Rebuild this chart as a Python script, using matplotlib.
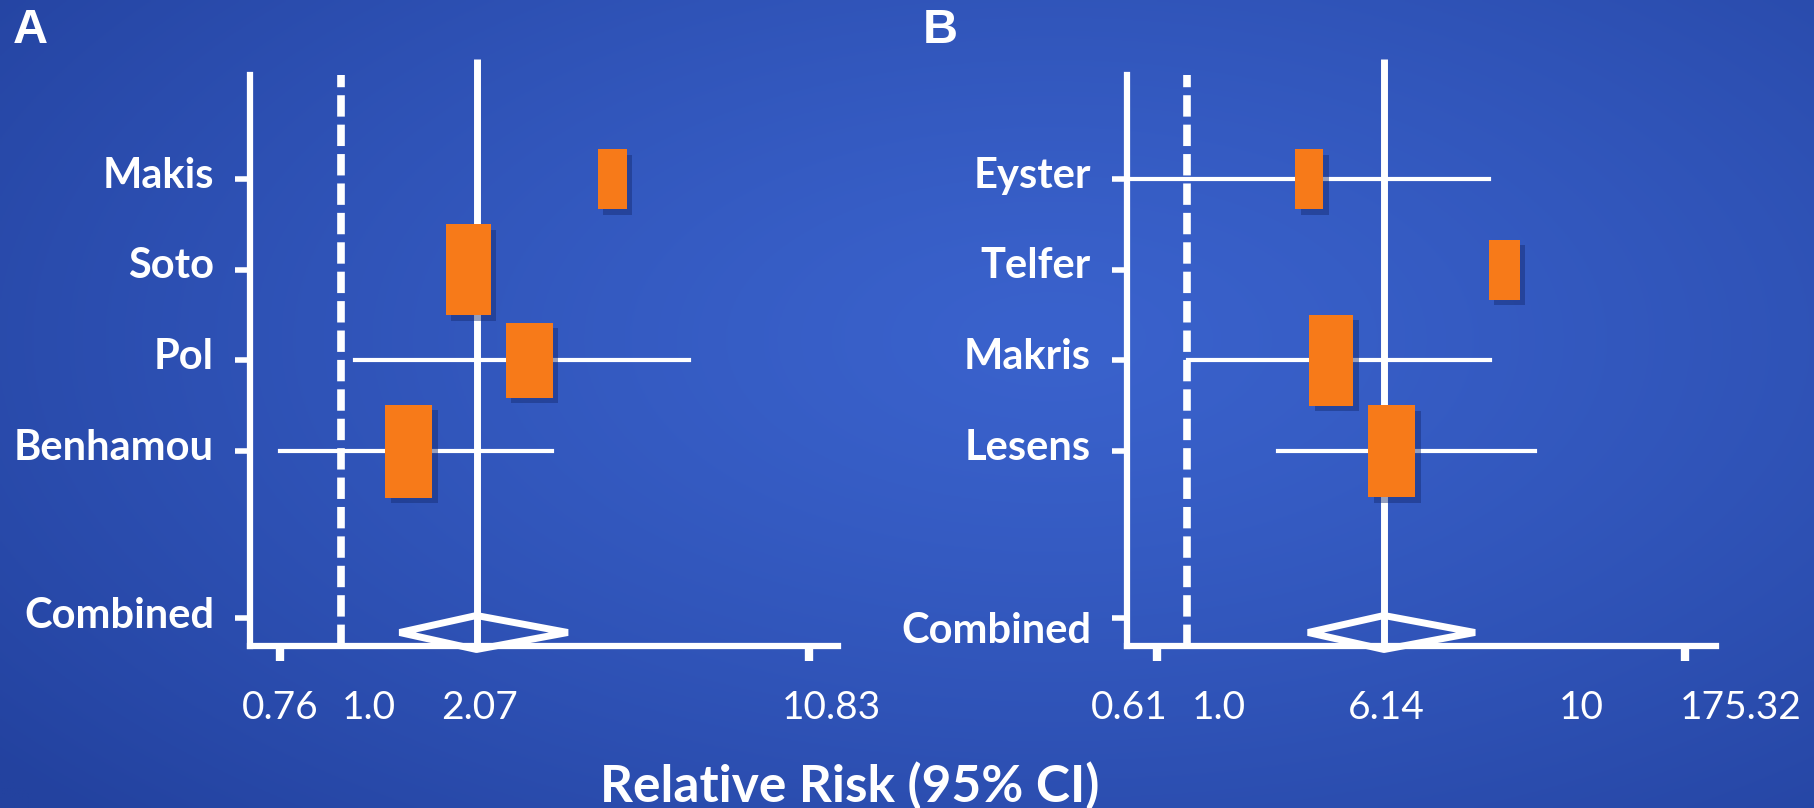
import numpy as np
import matplotlib
matplotlib.use("Agg")
import matplotlib.pyplot as plt
from matplotlib.patches import Rectangle, Polygon
from matplotlib.transforms import ScaledTranslation
import matplotlib.patheffects as pe

plt.rcParams['font.family'] = ['Lato', 'DejaVu Sans']

# ---- data (relative risk, 95% CI) ----
a_names = ['Makis', 'Soto', 'Pol', 'Benhamou']
a_rr = [4.07, 1.98, 2.69, 1.44]
a_lo = [np.nan, np.nan, 1.08, 0.76]
a_hi = [np.nan, np.nan, 5.96, 3.01]
a_pooled = [2.07, 1.37, 3.26]          # estimate, low, high
a_ticks = [0.76, 1.0, 2.07, 10.83]
a_tick_labels = ['0.76', '1.0', '2.07', '10.83']

b_names = ['Eyster', 'Telfer', 'Makris', 'Lesens']
b_rr = [3.08, 8.27, 3.77, 6.26]
b_lo = [0.40, np.nan, 1.01, 2.31]
b_hi = [7.96, np.nan, 7.98, 8.92]
b_pooled = [6.14, 3.05, 7.69]
b_ticks = [0.61, 1.0, 6.14, 10, 175.32]
b_tick_labels = ['0.61', '1.0', '6.14', '10', '175.32']

# ---- layout / style (pixels of the 1814x808 figure) ----
W, H = 1814, 808
ROW0, ROW = 179, 90.7          # pixel y of first study row, row spacing
AX_TOP, AX_BOT = 75, 646
COMBINED_ROW = 4.84
DIAMOND_ROW = 5.0
ORANGE = '#f77a19'

a_tick_px = [280, 341, 476.5, 809]
b_tick_px = [1156.5, 1187, 1384, 1581, 1685]
a_label_dx = [0, 28, 3, 22]
b_label_dx = [-27, 32, 2, 0, 56]
a_ylabel_dy = [7, 7, 7, 7, 5]
b_ylabel_dy = [7, 7, 7, 7, -10]
a_box_w = [29, 45, 47, 47]
a_box_h = [60, 91, 75, 93]
b_box_w = [28, 31, 44, 47]
b_box_h = [60, 60, 91, 92]


def piecewise_scale(vals, pos):
    lv = np.log(np.asarray(vals, float))
    ps = np.asarray(pos, float)

    def fwd(v):
        x = np.log(np.clip(np.asarray(v, float), 1e-6, None))
        y = np.interp(x, lv, ps)
        y = np.where(x < lv[0], ps[0] + (x - lv[0]) * (ps[1] - ps[0]) / (lv[1] - lv[0]), y)
        y = np.where(x > lv[-1], ps[-1] + (x - lv[-1]) * (ps[-1] - ps[-2]) / (lv[-1] - lv[-2]), y)
        return y

    def inv(y):
        y = np.asarray(y, float)
        x = np.interp(y, ps, lv)
        x = np.where(y < ps[0], lv[0] + (y - ps[0]) * (lv[1] - lv[0]) / (ps[1] - ps[0]), x)
        x = np.where(y > ps[-1], lv[-1] + (y - ps[-1]) * (lv[-1] - lv[-2]) / (ps[-1] - ps[-2]), x)
        return np.exp(x)
    return fwd, inv


fig = plt.figure(figsize=(W / 100, H / 100), dpi=100)

# background gradient
bg = fig.add_axes([0, 0, 1, 1], zorder=-10)
yy, xx = np.mgrid[0:1:300j, 0:1:700j]
d = np.clip(np.sqrt(((xx - 0.58) / 0.75) ** 2 + ((yy - 0.42) / 0.85) ** 2), 0, 1) ** 1.3
inner = np.array([0x3a, 0x62, 0xcc]) / 255
outer = np.array([0x23, 0x42, 0x9f]) / 255
bg.imshow(inner + (outer - inner) * d[..., None], extent=[0, 1, 0, 1], aspect='auto')
bg.axis('off')


def draw_panel(x_left, x_right, tick_vals, tick_px, tick_labels, label_dx, mark_vals,
               names, rr, lo, hi, box_w, box_h, pooled, ylabel_dy, letter, letter_x):
    fwd, inv = piecewise_scale(tick_vals, tick_px)
    ax = fig.add_axes([x_left / W, 1 - AX_BOT / H, (x_right - x_left) / W, (AX_BOT - AX_TOP) / H])
    ax.patch.set_visible(False)
    ax.set_xscale('function', functions=(fwd, inv))
    ax.set_xlim(float(inv(x_left)), float(inv(x_right)))
    ax.set_ylim((AX_BOT - ROW0) / ROW, (AX_TOP - ROW0) / ROW)

    for side in ['top', 'right']:
        ax.spines[side].set_visible(False)
    for side in ['left', 'bottom']:
        ax.spines[side].set_color('white')
        ax.spines[side].set_linewidth(4.5)
        ax.spines[side].set_capstyle('projecting')

    rows = list(range(len(names)))
    ax.set_yticks(rows + [COMBINED_ROW], names + ['Combined'])
    ax.tick_params(axis='y', colors='white', length=11, width=4, pad=15,
                   labelsize=30)
    for t, dy in zip(ax.get_yticklabels(), ylabel_dy):
        t.set_fontweight('bold')
        t.set_transform(t.get_transform() + ScaledTranslation(0, dy / 100, fig.dpi_scale_trans))

    ax.set_xticks(mark_vals, [''] * len(mark_vals))
    ax.xaxis.set_minor_locator(plt.NullLocator())
    ax.tick_params(axis='x', colors='white', length=11, width=6)

    for v, lab, dx in zip(tick_vals, tick_labels, label_dx):
        off = ScaledTranslation(dx / 100, -62 / 100, fig.dpi_scale_trans)
        ax.text(v, 0, lab, transform=ax.get_xaxis_transform() + off,
                ha='center', va='center', color='white', fontsize=28)

    # reference lines: null (dashed) and pooled estimate (solid)
    ax.axvline(1.0, color='white', lw=5.5, ls=(0, (2.8, 1.05)), zorder=2)
    ax.plot([pooled[0], pooled[0]], [(59 - ROW0) / ROW, (AX_BOT - ROW0) / ROW],
            color='white', lw=5, clip_on=False, zorder=2, solid_capstyle='butt')

    # confidence intervals
    for r, l, h in zip(rows, lo, hi):
        if not np.isnan(l):
            ax.plot([l, h], [r, r], color='white', lw=3, zorder=3)

    # study boxes
    shadow = [pe.SimplePatchShadow(offset=(4, -4), shadow_rgbFace='#142a70', alpha=0.45), pe.Normal()]
    for r, est, bw, bh in zip(rows, rr, box_w, box_h):
        cx = fwd(est)
        x0, x1 = float(inv(cx - bw / 2)), float(inv(cx + bw / 2))
        rect = Rectangle((x0, r - bh / 2 / ROW), x1 - x0, bh / ROW, facecolor=ORANGE,
                         edgecolor='none', zorder=4, path_effects=shadow)
        ax.add_patch(rect)

    # pooled diamond
    est, plo, phi = pooled
    dh = 17 / ROW
    diamond = Polygon([[plo, DIAMOND_ROW], [est, DIAMOND_ROW - dh], [phi, DIAMOND_ROW],
                       [est, DIAMOND_ROW + dh]], closed=True, fill=False, edgecolor='white',
                      lw=5, joinstyle='bevel', clip_on=False, zorder=5)
    ax.add_patch(diamond)

    fig.text(letter_x / W, 1 - 43 / H, letter, color='white', fontsize=35,
             fontweight='bold', family=['Liberation Sans', 'DejaVu Sans'], va='baseline')
    return ax


draw_panel(250, 838, a_ticks, a_tick_px, a_tick_labels, a_label_dx, [0.76, 10.83],
           a_names, a_rr, a_lo, a_hi, a_box_w, a_box_h, a_pooled, a_ylabel_dy, 'A', 13)
draw_panel(1127, 1716, b_ticks, b_tick_px, b_tick_labels, b_label_dx, [0.61, 175.32],
           b_names, b_rr, b_lo, b_hi, b_box_w, b_box_h, b_pooled, b_ylabel_dy, 'B', 923)

fig.text(850 / W, 1 - 802 / H, 'Relative Risk (95% CI)', color='white', fontsize=37,
         fontweight='bold', ha='center', va='baseline')

fig.savefig('out.png', dpi=100)
